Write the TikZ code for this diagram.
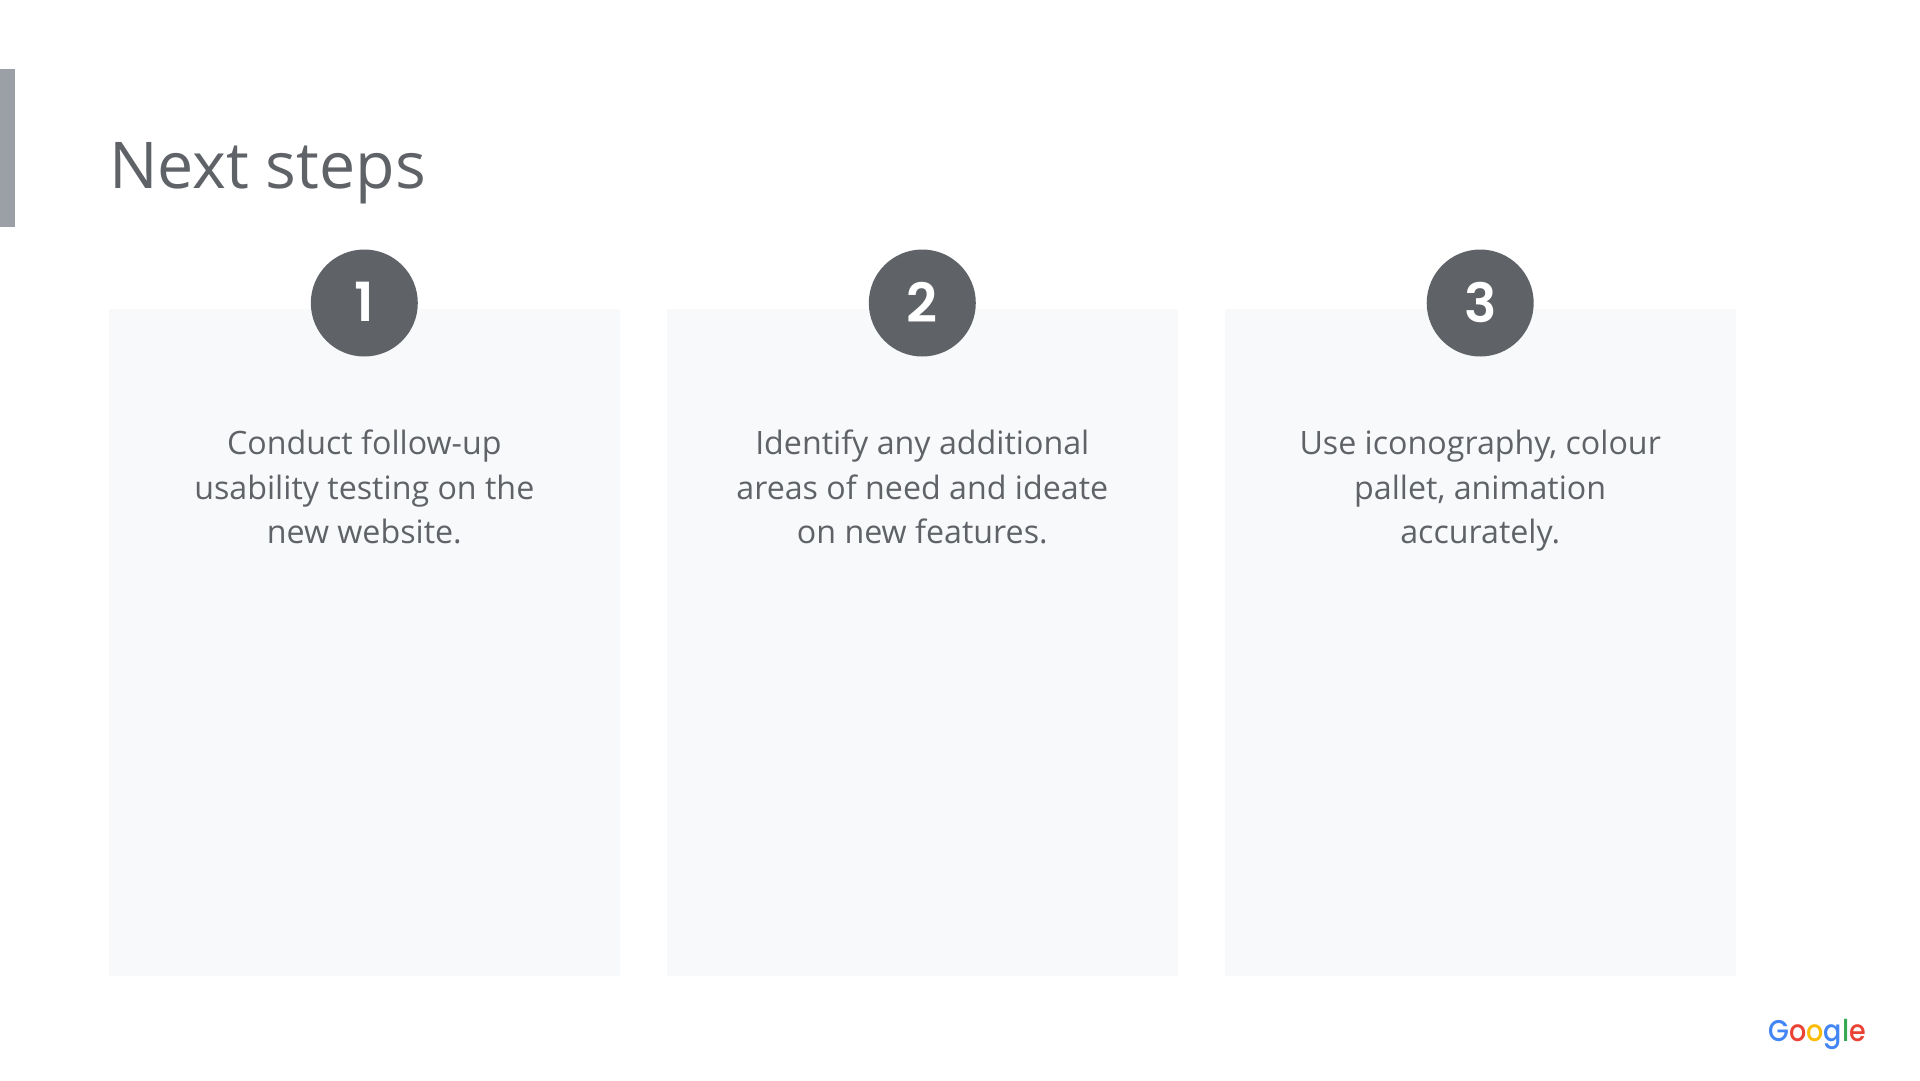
\documentclass[tikz,border=0pt]{standalone}
\usepackage{fontspec}
\setmainfont{Open Sans}
\newfontfamily\numfont{Poppins SemiBold}
\newfontfamily\logofont[LetterSpace=-6]{Poppins Medium}
\usetikzlibrary{positioning}

\definecolor{slidegray}{HTML}{5F6368}
\definecolor{bargray}{HTML}{9AA0A6}
\definecolor{cardgray}{HTML}{F8F9FA}
\definecolor{gblue}{HTML}{4285F4}
\definecolor{gred}{HTML}{EA4335}
\definecolor{gyellow}{HTML}{FBBC05}
\definecolor{ggreen}{HTML}{34A853}

\tikzset{
    card/.style={fill=cardgray, draw=none, minimum width=511pt, minimum height=667pt, inner sep=0pt},
    badge/.style={circle, fill=slidegray, text=white, minimum size=107pt, inner sep=0pt,
        font=\numfont\fontsize{54}{54}\selectfont},
    cardtext/.style={text=slidegray, align=center, font=\fontsize{32.2}{44.2}\selectfont},
}

\begin{document}
\begin{tikzpicture}[x=1pt,y=-1pt]

% Keep the page at the slide size
\path[use as bounding box] (0,0) rectangle (1920,1080);
\fill[white] (0,0) rectangle (1920,1080);

% Side bar and title
\fill[bargray] (0,69) rectangle (15,227);
\node[anchor=base west, inner sep=0pt, text=slidegray, font=\fontsize{64.5}{64.5}\selectfont] (title) at (109,188) {Next steps};

% Three cards with a number on top
\foreach \x/\n/\txt in {364.3/1/{Conduct follow-up\\usability testing on the\\new website.},
                        922.3/2/{Identify any additional\\areas of need and ideate\\on new features.},
                        1480.2/3/{Use iconography, colour\\pallet, animation\\accurately.}}
{
    \node[card] (card\n) at (\x,642.5) {};
    \node[badge] (badge\n) at (\x,303) {\raisebox{1.5pt}{\n}};
    \node[cardtext, anchor=north] (text\n) at (\x,420.5) {\strut\txt};
}

% Logo
\node[anchor=base east, inner sep=0pt, font=\logofont\fontsize{30}{30}\selectfont] (logo) at (1866,1041)
    {\scalebox{.9}[1]{\textcolor{gblue}{G}\textcolor{gred}{o}\textcolor{gyellow}{o}\textcolor{gblue}{g}\textcolor{ggreen}{l}\textcolor{gred}{e}}};
\end{tikzpicture}
\end{document}
